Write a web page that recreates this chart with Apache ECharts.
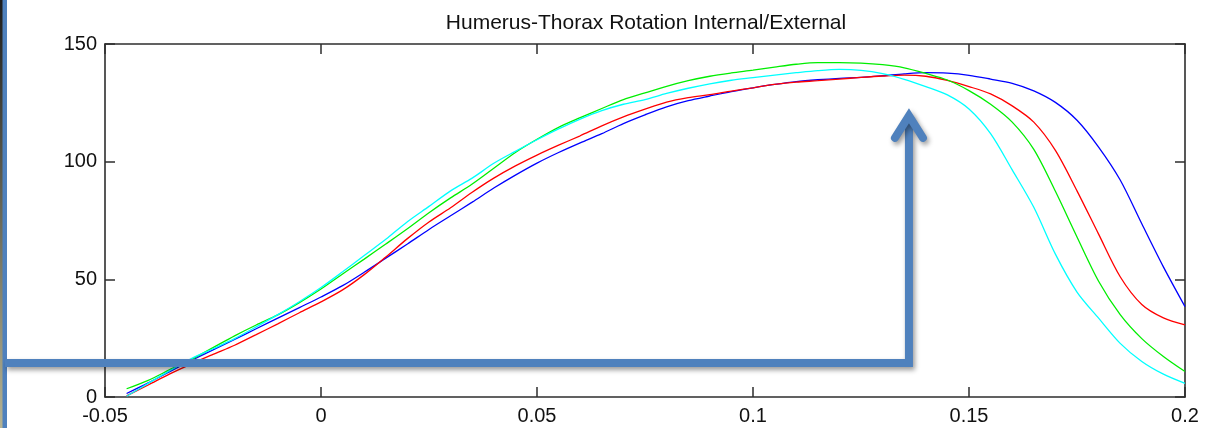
<!DOCTYPE html>
<html><head><meta charset="utf-8">
<script src="https://cdn.jsdelivr.net/npm/echarts@6/dist/echarts.min.js"></script>
<style>html,body{margin:0;padding:0;background:#fff}#c{width:1217px;height:428px}</style>
</head><body><div id="c"></div>
<script>
const titleText = 'Humerus-Thorax Rotation Internal/External';
const xs = [-0.045,-0.04,-0.035,-0.03,-0.025,-0.02,-0.015,-0.01,-0.005,0,
  0.005,0.01,0.015,0.02,0.025,0.03,0.035,0.04,0.045,0.05,
  0.055,0.06,0.065,0.07,0.075,0.08,0.085,0.09,0.095,0.1,
  0.105,0.11,0.115,0.12,0.125,0.13,0.135,0.14,0.145,0.15,
  0.155,0.16,0.165,0.17,0.175,0.18,0.185,0.19,0.195,0.2];
const blueY = [1.5,6.0,10.8,15.5,20.0,24.5,29.0,33.5,38.0,42.5,
  47.3,53.0,59.0,65.0,71.2,77.0,82.8,88.8,94.3,99.4,
  103.9,108.0,111.9,116.2,119.9,123.3,125.9,127.9,129.8,131.4,
  132.8,134.0,134.8,135.4,135.8,136.5,137.3,137.8,137.6,136.7,
  135.1,133.3,130.1,125.2,117.6,106.2,92.2,73.6,55.3,38.4];
const redY = [0.5,5.1,9.8,14.1,18.1,22.0,26.5,31.1,35.8,40.4,
  45.5,52.0,59.5,67.3,74.4,80.4,87.0,93.0,98.2,102.8,
  107.0,111.0,115.2,119.0,122.3,125.3,127.2,128.5,130.0,131.4,
  132.8,133.8,134.4,135.1,135.8,136.4,136.8,136.3,134.5,131.9,
  128.8,123.7,116.8,104.8,87.6,69.2,51.1,39.3,33.6,30.6];
const greenY = [3.5,7.1,11.6,16.0,21.0,26.0,30.6,34.9,40.1,45.9,
  52.3,58.6,65.0,71.5,78.3,84.6,90.5,97.2,103.9,109.5,
  114.6,118.7,122.6,126.4,129.2,132.0,134.4,136.3,137.7,138.9,
  140.2,141.4,142.1,142.1,141.9,141.2,139.9,137.5,134.7,130.2,
  124.4,116.8,105.2,87.4,68.0,49.2,35.0,24.8,17.2,10.8];
const cyanY = [0.3,5.8,11.2,16.3,20.5,24.8,29.8,35.0,40.5,46.5,
  53.2,60.1,67.0,74.5,81.0,87.6,93.0,99.3,104.4,109.3,
  113.9,118.1,121.7,124.4,126.4,129.0,131.2,133.1,134.6,135.7,
  136.8,137.8,138.7,139.2,138.8,137.4,135.0,131.9,128.4,122.4,
  111.9,96.5,80.6,60.7,44.6,33.5,22.8,15.1,9.7,5.8];
const xTickLabels = ['-0.05','0','0.05','0.1','0.15','0.2'];
const yTickLabels = ['0','50','100','150'];
// annotation arrow anchor (data units)
const arrowX = 0.1361, arrowBaseY = 14.4, arrowTipY = 119.5;

const chart = echarts.init(document.getElementById('c'), null, {renderer: 'canvas'});
const FONT = 'Liberation Sans, Arial, sans-serif';
const axisCol = '#2e2e2e';
function mkX(pos, showLabel) {
  return {
    type: 'value', min: -0.05, max: 0.2, interval: 0.05, position: pos,
    axisLine: {show: true, onZero: false, lineStyle: {color: axisCol, width: 1.6}},
    axisTick: {show: true, inside: true, length: 10, lineStyle: {color: axisCol, width: 1.5}},
    splitLine: {show: false},
    axisLabel: {show: showLabel, fontSize: 20, color: '#111', fontFamily: FONT, margin: 9,
      formatter: v => xTickLabels[Math.round((v + 0.05) / 0.05)]}
  };
}
function mkY(pos, showLabel) {
  return {
    type: 'value', min: 0, max: 150, interval: 50, position: pos,
    axisLine: {show: true, onZero: false, lineStyle: {color: axisCol, width: 1.6}},
    axisTick: {show: true, inside: true, length: 10, lineStyle: {color: axisCol, width: 1.5}},
    splitLine: {show: false},
    axisLabel: {show: showLabel, fontSize: 20, color: '#111', fontFamily: FONT, margin: 8,
      formatter: v => yTickLabels[Math.round(v / 50)]}
  };
}
function mkSeries(name, ys, color) {
  return {
    name, type: 'line', xAxisIndex: 0, yAxisIndex: 0, showSymbol: false,
    smooth: 0.3,
    lineStyle: {color, width: 1.3}, itemStyle: {color},
    data: xs.map((x, i) => [x, ys[i]])
  };
}
chart.setOption({
  animation: false,
  backgroundColor: '#fff',
  title: {text: titleText, left: 641, textAlign: 'center', top: 8,
    textStyle: {fontSize: 21, fontWeight: 'normal', color: '#111', fontFamily: FONT}},
  grid: {left: 105, right: 32, top: 44, bottom: 31, containLabel: false},
  xAxis: [mkX('bottom', true), mkX('top', false)],
  yAxis: [mkY('left', true), mkY('right', false)],
  series: [
    mkSeries('blue', blueY, '#0000ff'),
    mkSeries('red', redY, '#ff0000'),
    mkSeries('green', greenY, '#00ee00'),
    mkSeries('cyan', cyanY, '#00ffff')
  ]
});

const base = chart.convertToPixel({gridIndex: 0}, [arrowX, arrowBaseY]);
const tip = chart.convertToPixel({gridIndex: 0}, [arrowX, arrowTipY]);
const col = '#4f81bd';
const shadow = {shadowBlur: 5, shadowOffsetX: 2, shadowOffsetY: 3, shadowColor: 'rgba(0,0,0,0.4)'};
chart.setOption({
  graphic: [
    {type: 'rect', z: 100, shape: {x: 0, y: 0, width: 7, height: 428}, style: {fill: col}},
    {type: 'rect', z: 101, shape: {x: 0, y: 0, width: 2.5, height: 428},
      style: {fill: new echarts.graphic.LinearGradient(0, 0, 0, 1, [
        {offset: 0, color: '#1c1c1c'}, {offset: 1, color: '#b5b393'}])}},
    {type: 'polyline', z: 102,
      shape: {points: [[5, base[1]], [base[0], base[1]], [base[0], tip[1]]]},
      style: Object.assign({stroke: col, lineWidth: 8, fill: null, lineJoin: 'miter', lineCap: 'butt'}, shadow)},
    {type: 'polyline', z: 103,
      shape: {points: [[tip[0] - 14, tip[1] + 22], [tip[0], tip[1]], [tip[0] + 14, tip[1] + 22]]},
      style: Object.assign({stroke: col, lineWidth: 8, fill: null, lineJoin: 'miter', lineCap: 'round'}, shadow)}
  ]
});
</script></body></html>
